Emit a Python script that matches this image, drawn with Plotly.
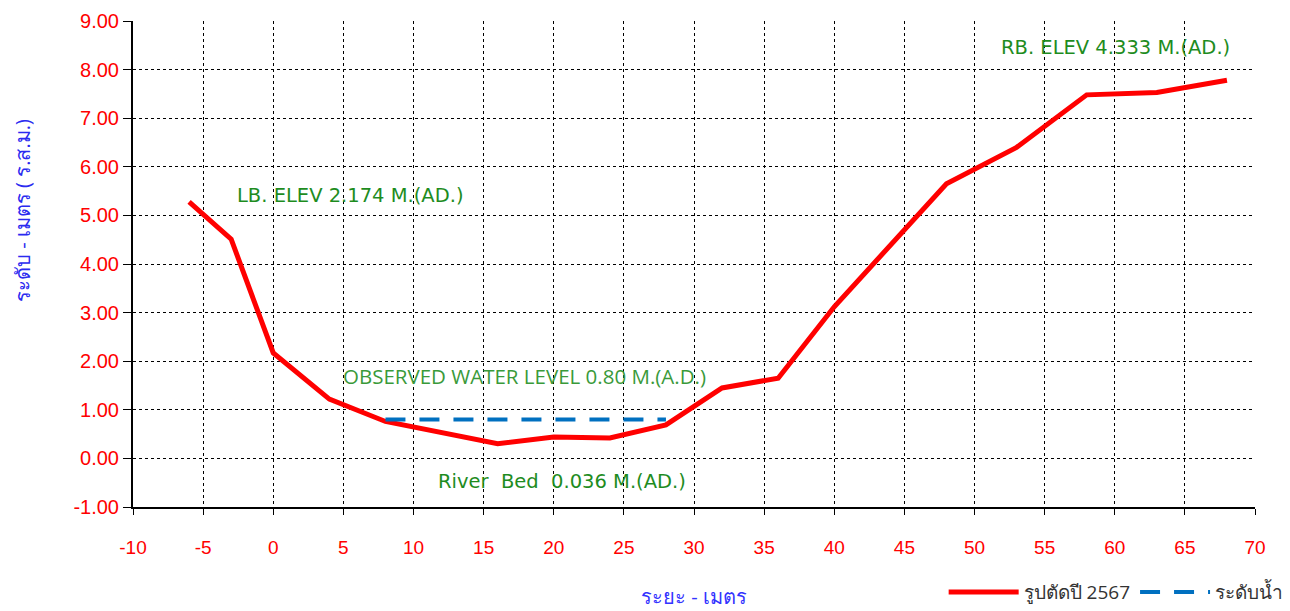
import plotly.graph_objects as go

# Cross-section 2567
dist = [-6, -3, 0, 4, 8, 16, 20, 24, 28, 32, 36, 40, 48, 53, 58, 63, 68]
elev = [5.28, 4.51, 2.17, 1.22, 0.76, 0.30, 0.44, 0.42, 0.69, 1.45, 1.65, 3.12, 5.65, 6.40, 7.48, 7.53, 7.78]

# Observed water level
wl_dist = [8, 28]
wl_elev = [0.80, 0.80]

x_ticks = list(range(-10, 71, 5))
y_ticks = list(range(-1, 10, 1))

fig = go.Figure()
fig.add_trace(go.Scatter(x=dist, y=elev, mode="lines", name="รูปตัดปี 2567",
                         line=dict(color="#ff0000", width=5)))
fig.add_trace(go.Scatter(x=wl_dist, y=wl_elev, mode="lines", name="ระดับน้ำ",
                         line=dict(color="#0070c0", width=4, dash="20px,14px")))

green = "#1e8c1e"
ann = [
    dict(x=5.54, y=5.40, text="LB. ELEV 2.174 M.(AD.)", color=green, size=19.5, fam="DejaVu Sans, sans-serif"),
    dict(x=60.05, y=8.465, text="RB. ELEV 4.333 M.(AD.)", color=green, size=19.5, fam="DejaVu Sans, sans-serif"),
    dict(x=17.88, y=1.695, text="OBSERVED WATER LEVEL 0.80 M.(A.D.)", color="#3a9a3a", size=20.5, fam="Open Sans, sans-serif"),
    dict(x=20.62, y=-0.465, text="River  Bed  0.036 M.(AD.)", color=green, size=19.5, fam="DejaVu Sans, sans-serif"),
]
for a in ann:
    fig.add_annotation(x=a["x"], y=a["y"], text=a["text"], showarrow=False,
                       font=dict(family=a["fam"], size=a["size"], color=a["color"]))

# axis titles
fig.add_annotation(xref="paper", yref="paper", x=-0.099, y=0.611, text="ระดับ - เมตร ( ร.ส.ม.)",
                   textangle=-90, showarrow=False, xanchor="center", yanchor="middle",
                   font=dict(size=20, color="#2a2af0"))
fig.add_annotation(xref="paper", yref="paper", x=0.5, y=-0.185, text="ระยะ - เมตร",
                   showarrow=False, xanchor="center", yanchor="middle",
                   font=dict(size=20, color="#3333ff"))

fig.update_layout(
    width=1290, height=611,
    margin=dict(l=133, r=35, t=21, b=104, autoexpand=False),
    paper_bgcolor="white", plot_bgcolor="white",
    showlegend=True,
    legend=dict(orientation="h", x=1.03, xanchor="right", y=-0.175, yanchor="middle",
                font=dict(family="Open Sans, Noto Sans, sans-serif", size=19, color="#333333"),
                bgcolor="rgba(0,0,0,0)", itemwidth=70),
    xaxis=dict(range=[-10, 70], tickvals=x_ticks, ticktext=[str(v) for v in x_ticks],
               showgrid=True, gridcolor="#000000", griddash="dot", gridwidth=1,
               zeroline=False, showline=True, linecolor="#000000", linewidth=2,
               ticks="outside", ticklen=6, tickcolor="#000000", ticklabelstandoff=16,
               tickfont=dict(family="Liberation Sans Narrow, Liberation Sans, Arial, sans-serif", size=19, color="#ff0000")),
    yaxis=dict(range=[-1, 9], tickvals=y_ticks, ticktext=[f"{v:.2f}" for v in y_ticks],
               showgrid=True, gridcolor="#000000", griddash="dot", gridwidth=1,
               zeroline=False, showline=True, linecolor="#000000", linewidth=2,
               ticks="outside", ticklen=8, tickcolor="#000000",
               tickfont=dict(family="Liberation Sans, Arial, sans-serif", size=20, color="#ff0000")),
)

fig.write_html("out.html", config={"displayModeBar": False},
               post_script="document.body.style.margin='0';")
